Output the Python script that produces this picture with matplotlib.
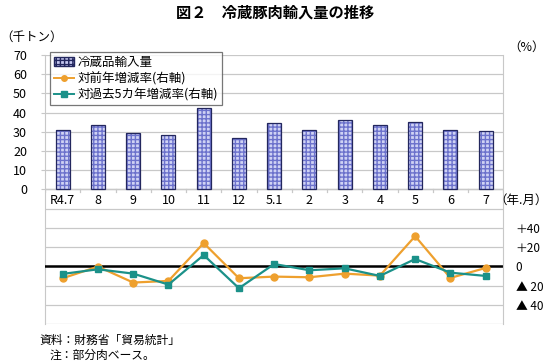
import matplotlib
matplotlib.use('Agg')
import matplotlib.pyplot as plt
import numpy as np
from matplotlib.patches import Patch
from matplotlib.lines import Line2D

plt.rcParams['font.family'] = ['Noto Sans CJK JP', 'DejaVu Sans']

months = ['R4.7', '8', '9', '10', '11', '12', '5.1', '2', '3', '4', '5', '6', '7']
imports = [31.1, 33.8, 29.5, 28.3, 42.3, 26.8, 34.6, 31.1, 36.3, 33.3, 35.1, 31.1, 30.4]
yoy = [-12.4, -0.3, -16.9, -15.2, 24.2, -12.4, -10.7, -11.4, -7.6, -9.7, 31.4, -12.1, -1.7]
vs5y = [-7.9, -3.1, -7.6, -19.0, 11.7, -22.8, 2.4, -4.1, -2.1, -10.0, 7.6, -6.6, -10.0]

left_ticks = [0, 10, 20, 30, 40, 50, 60, 70]
right_ticks = [-40, -20, 0, 20, 40]
right_labels = ['▲ 40', '▲ 20', '0', '＋20', '＋40']

orange = '#eea02e'
teal = '#1b9189'
grid_c = '#c8c8c8'

fig = plt.figure(figsize=(5.5, 3.64), dpi=100)
ax = fig.add_axes([0.082, 0.11, 0.833, 0.739])
ax2 = ax.twinx()

x = np.arange(len(months))

# gridlines every 10 (left axis units)
for g in range(-70, 71, 10):
    ax.axhline(g, color=grid_c, lw=0.9, zorder=0)

# bars: hatched fill + dark outline
ax.bar(x, imports, width=0.4, color='#cfd2f4', edgecolor='#6c72cc',
       hatch='++++', linewidth=0, zorder=2)
ax.bar(x, imports, width=0.4, fill=False, edgecolor='#23275e',
       linewidth=0.9, zorder=3)

ax.set_xlim(-0.5, len(months) - 0.5)
ax.set_ylim(-70, 70)
ax.set_yticks(left_ticks)
ax.tick_params(axis='y', labelsize=9, length=3, color=grid_c, pad=10)
ax.set_xticks([])
for s in ['top', 'bottom', 'right']:
    ax.spines[s].set_visible(False)
ax.spines['left'].set_color(grid_c)

# category axis line at 0 and tick marks between categories
ax.axhline(0, color=grid_c, lw=1, zorder=1)
for b in np.arange(-0.5, len(months), 1.0):
    ax.plot([b, b], [0, -1.5], color=grid_c, lw=0.9, zorder=1)
for i, m in enumerate(months):
    ax.text(i, -5.5, m, ha='center', va='center', fontsize=9)

# right axis lines
ax2.set_ylim(-60, 220)
ax2.axhline(0, color='black', lw=1.8, zorder=2)
ax2.plot(x, yoy, color=orange, lw=1.6, marker='o', ms=5, zorder=4)
ax2.plot(x, vs5y, color=teal, lw=1.6, marker='s', ms=5, zorder=5)
ax2.set_yticks(right_ticks)
ax2.set_yticklabels(right_labels)
ax2.tick_params(axis='y', labelsize=8.5, length=0, pad=9)
for s in ['top', 'bottom', 'left']:
    ax2.spines[s].set_visible(False)
ax2.spines['right'].set_color(grid_c)

handles = [Patch(facecolor='#c4c7f0', edgecolor='#23275e', hatch='++++'),
           Line2D([], [], color=orange, marker='o', ms=4, lw=1.4),
           Line2D([], [], color=teal, marker='s', ms=4, lw=1.4)]
labels = ['冷蔵品輸入量', '対前年増減率(右軸)', '対過去5カ年増減率(右軸)']
leg = ax2.legend(handles, labels, loc='upper left', bbox_to_anchor=(0.011, 1.01),
                 fontsize=9, frameon=True, fancybox=False, handlelength=1.6,
                 handletextpad=0.3, borderpad=0.3, labelspacing=0.25,
                 borderaxespad=0)
leg.get_frame().set_edgecolor('#555555')
leg.get_frame().set_linewidth(0.9)

fig.text(0.5, 0.965, '図２　冷蔵豚肉輸入量の推移', ha='center', va='center',
         fontsize=11, fontweight='bold')
fig.text(0.0, 0.898, '（千トン）', ha='left', va='center', fontsize=9)
fig.text(0.99, 0.87, '（%）', ha='right', va='center', fontsize=9)
fig.text(0.995, 0.45, '（年.月）', ha='right', va='center', fontsize=9)
fig.text(0.072, 0.065, '資料：財務省「貿易統計」', ha='left', va='center', fontsize=8.5)
fig.text(0.09, 0.024, '注：部分肉ベース。', ha='left', va='center', fontsize=8.5)

fig.savefig('out.png', dpi=100)
